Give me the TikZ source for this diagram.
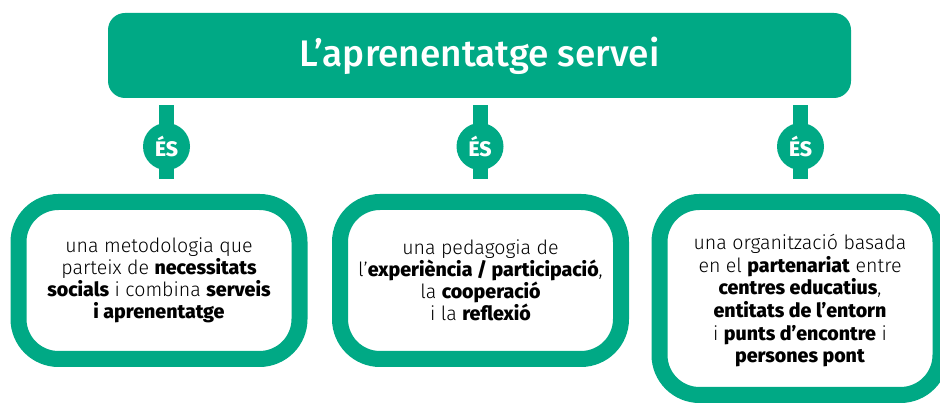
\documentclass[tikz,border=0pt]{standalone}
\usepackage{fontspec}
\setmainfont{Fira Sans Light}[BoldFont={Fira Sans ExtraBold}]
\newfontfamily\titlefont{Fira Sans Medium}
\usetikzlibrary{backgrounds}
\definecolor{apsgreen}{RGB}{0,169,133}

\begin{document}
\begin{tikzpicture}[x=1pt,y=1pt,
	every node/.style={align=center},
	titlebox/.style={fill=apsgreen,rounded corners=17pt,minimum width=743pt,minimum height=85pt,text=white,font=\titlefont\fontsize{37}{40}\selectfont},
	esdot/.style={circle,fill=apsgreen,minimum size=47pt,inner sep=0pt,text=white,font=\bfseries\fontsize{21}{22}\selectfont},
	ideabox/.style={draw=apsgreen,line width=16pt,rounded corners=40pt,fill=white,minimum width=281pt,inner sep=0pt,font=\fontsize{19.6}{21.8}\selectfont},
	stem/.style={draw=apsgreen,line width=15pt}]
		\clip (0,0) rectangle (940,403);
		\node[titlebox] (title) at (479.5,347.5) {L’aprenentatge servei};
		\node[esdot] (es1) at (166.5,256.5) {ÉS};
		\node[esdot] (es2) at (480,256.5) {ÉS};
		\node[esdot] (es3) at (800.5,256.5) {ÉS};
		\node[ideabox,minimum height=157pt] (idea1) at (159,122.5) {una metodologia que \\ parteix de \textbf{necessitats} \\ \textbf{socials} i combina \textbf{serveis} \\ \textbf{i aprenentatge}};
		\node[ideabox,minimum height=157pt] (idea2) at (480.5,122.5) {una pedagogia de \\ l’\textbf{experiència / participació}, \\ la \textbf{cooperació} \\ i la \textbf{reflexió}};
		\node[ideabox,minimum height=193pt,text depth=-10pt,font=\fontsize{19.6}{22.6}\selectfont] (idea3) at (800,104.5) {una organització basada \\ en el \textbf{partenariat} entre \\ \textbf{centres educatius}, \\ \textbf{entitats de l’entorn} \\ i \textbf{punts d’encontre} i \\ \textbf{persones pont}};
		% stems behind the dots
		\begin{scope}[on background layer]
		\foreach \i in {1,2,3}
			\draw[stem] ([yshift=-7pt]title.south -| es\i.center) -- ([yshift=15pt]idea\i.north -| es\i.center);
		\end{scope}
	\end{tikzpicture}
\end{document}
